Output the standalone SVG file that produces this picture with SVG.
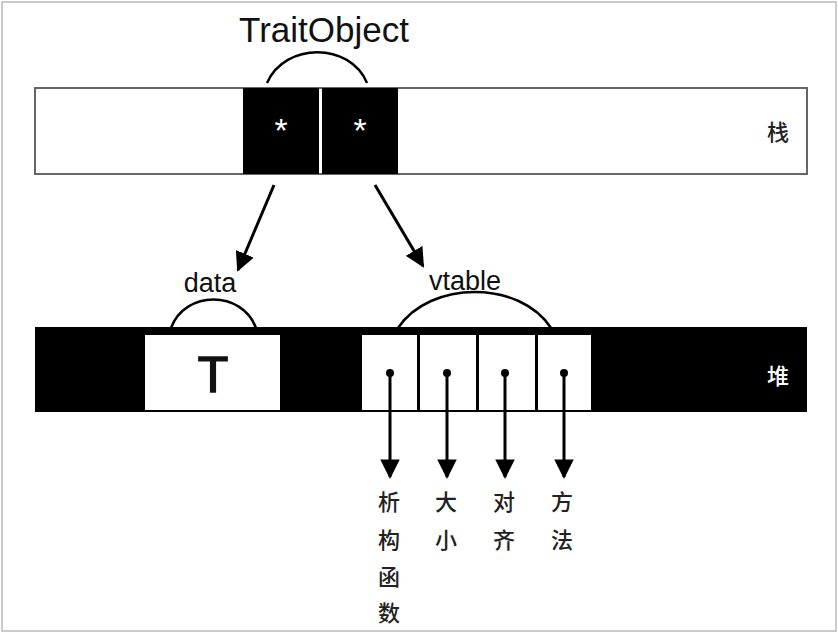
<svg xmlns="http://www.w3.org/2000/svg" width="838" height="633" viewBox="0 0 838 633">
<style>
.lbl{font-family:"Liberation Sans",Arial,sans-serif;fill:#111;text-anchor:middle}
.cjk{font-family:"Noto Sans CJK SC",sans-serif;font-size:22px;font-weight:500;fill:#222;text-anchor:middle}
.arc{fill:none;stroke:#000;stroke-width:2.5}
.conn{stroke:#000;stroke-width:3;fill:none}
</style>
<defs>
<marker id="ah" viewBox="0 0 10 10" refX="9" refY="5" markerWidth="6.5" markerHeight="6.5" markerUnits="strokeWidth" orient="auto">
<path d="M0,0 L10,5 L0,10 z" fill="#000"/>
</marker>
</defs>
<rect x="0" y="0" width="838" height="633" fill="#fff"/>
<rect x="2" y="2" width="834" height="629" fill="none" stroke="#bbb" stroke-width="1.5"/>

<g id="stack">
<rect x="35" y="88" width="772" height="86" fill="#fff" stroke="#666" stroke-width="2"/>
<text class="cjk" x="778" y="140" font-size="19" font-weight="700">栈</text>
</g>
<g id="ptr-data">
<rect x="243" y="88" width="76" height="86" fill="#000"/>
<text class="lbl" x="281" y="142" font-size="34" style="fill:#fff">*</text>
</g>
<g id="ptr-vtable">
<rect x="322" y="88" width="76" height="86" fill="#000"/>
<text class="lbl" x="360" y="142" font-size="34" style="fill:#fff">*</text>
</g>
<g id="traitobject-label">
<text class="lbl" x="324" y="42" font-size="35">TraitObject</text>
<path class="arc" d="M267,83 C285,42 350,42 367,83"/>
</g>

<g id="heap">
<rect x="35" y="327" width="772" height="85" fill="#000"/>
<text class="cjk" x="778" y="384" font-size="19" font-weight="700" style="fill:#fff">堆</text>
</g>
<g id="data">
<rect x="145" y="335" width="135" height="75" fill="#fff"/>
<text class="lbl" x="213" y="392" font-size="50" stroke="#111" stroke-width="1.5">T</text>
<text class="lbl" x="210" y="292" font-size="27">data</text>
<path class="arc" d="M171,328 C185,290 242,290 256,328"/>
</g>
<g id="vtable">
<rect x="362" y="335" width="55" height="75" fill="#fff"/>
<rect x="420" y="335" width="56" height="75" fill="#fff"/>
<rect x="479" y="335" width="56" height="75" fill="#fff"/>
<rect x="538" y="335" width="53" height="75" fill="#fff"/>
<circle cx="390" cy="373" r="4" fill="#000"/>
<circle cx="447" cy="373" r="4" fill="#000"/>
<circle cx="505" cy="373" r="4" fill="#000"/>
<circle cx="564" cy="373" r="4" fill="#000"/>
<text class="lbl" x="465" y="290" font-size="27">vtable</text>
<path class="arc" d="M398,328 C430,280 520,280 551,328"/>
</g>
<g id="destructor">
<text class="cjk" x="389" y="510">析</text>
<text class="cjk" x="389" y="548">构</text>
<text class="cjk" x="389" y="585">函</text>
<text class="cjk" x="389" y="621">数</text>
</g>
<g id="size">
<text class="cjk" x="446" y="510">大</text>
<text class="cjk" x="446" y="548">小</text>
</g>
<g id="align">
<text class="cjk" x="504" y="510">对</text>
<text class="cjk" x="504" y="548">齐</text>
</g>
<g id="methods">
<text class="cjk" x="562" y="510">方</text>
<text class="cjk" x="562" y="548">法</text>
</g>

<g id="connectors">
<line class="conn" x1="274" y1="185" x2="238" y2="270" marker-end="url(#ah)"/>
<line class="conn" x1="375" y1="185" x2="423" y2="266" marker-end="url(#ah)"/>
<line class="conn" x1="390" y1="375" x2="390" y2="477" marker-end="url(#ah)"/>
<line class="conn" x1="447" y1="375" x2="447" y2="477" marker-end="url(#ah)"/>
<line class="conn" x1="505" y1="375" x2="505" y2="477" marker-end="url(#ah)"/>
<line class="conn" x1="564" y1="375" x2="564" y2="477" marker-end="url(#ah)"/>
</g>
</svg>
